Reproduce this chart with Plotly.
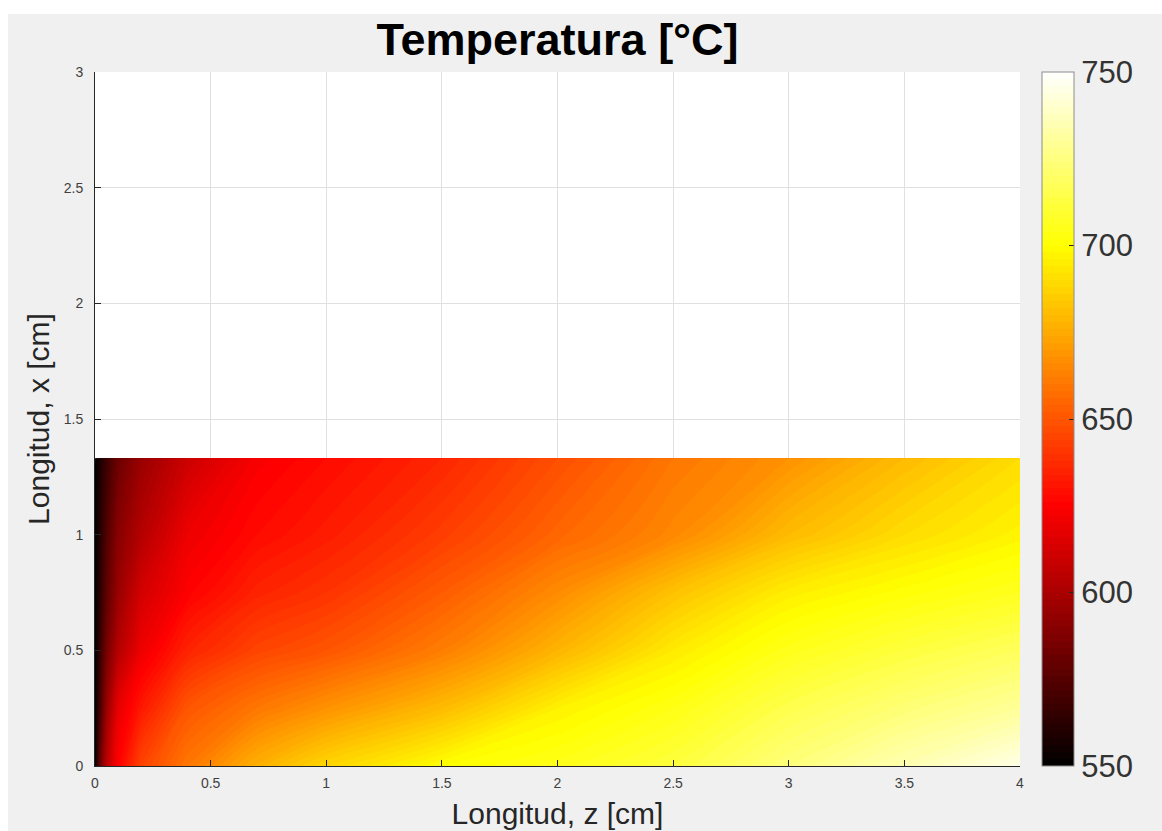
import plotly.graph_objects as go

# Longitudinal position z [cm] (columns) and transversal position x [cm] (rows)
z_cm = [0, 0.02, 0.05, 0.1, 0.2, 0.4, 0.7, 1.0, 1.5, 2.0, 2.5, 3.0, 3.5, 4.0]
x_cm = [0, 0.25, 0.5, 0.75, 1.0, 1.33]

# Temperature [°C], one row per x position
T_x000 = [550, 580, 605, 625, 645, 660, 677, 688, 700, 705, 712, 724, 735, 745]
T_x025 = [550, 570, 595, 618, 632, 650, 660, 668, 680, 696, 704, 715, 723, 730]
T_x050 = [550, 565, 585, 603, 620, 635, 645, 650, 662, 678, 694, 705, 712, 718]
T_x075 = [550, 562, 578, 595, 612, 625, 635, 640, 652, 666, 682, 695, 701, 706]
T_x100 = [550, 560, 574, 590, 603, 620, 628, 633, 643, 655, 665, 680, 690, 697]
T_x133 = [550, 558, 568, 582, 595, 610, 623, 628, 636, 648, 660, 668, 680, 690]

x_ticks = [0, 0.5, 1, 1.5, 2, 2.5, 3, 3.5, 4]
x_ticklabels = ["0", "0.5", "1", "1.5", "2", "2.5", "3", "3.5", "4"]
y_ticks = [0, 0.5, 1, 1.5, 2, 2.5, 3]
y_ticklabels = ["0", "0.5", "1", "1.5", "2", "2.5", "3"]
cbar_ticks = [550, 600, 650, 700, 750]

T = [T_x000, T_x025, T_x050, T_x075, T_x100, T_x133]

# MATLAB "hot" colormap
hot = [[0.0, "rgb(0,0,0)"], [0.375, "rgb(255,0,0)"],
       [0.75, "rgb(255,255,0)"], [1.0, "rgb(255,255,255)"]]

W, H = 1162, 831
L, R, TOP, B = 95, 142, 72, 65
PW, PH = W - L - R, H - TOP - B

fig = go.Figure()
fig.add_trace(go.Contour(
    x=z_cm, y=x_cm, z=T,
    colorscale=hot, zmin=550, zmax=750,
    contours=dict(coloring="fill", start=550, end=750, size=2, showlines=False),
    line=dict(width=0),
    colorbar=dict(
        x=(1042 - L) / PW, xanchor="left", xpad=0, ypad=0,
        y=0.5, yanchor="middle",
        len=PH, lenmode="pixels",
        thickness=32, thicknessmode="pixels",
        outlinecolor="#8c8c8c", outlinewidth=1,
        tickvals=cbar_ticks, ticks="inside", ticklen=5, tickcolor="#262626",
        tickfont=dict(family="Liberation Sans, Arial", size=31, color="#333333"),
    ),
    hoverinfo="skip",
))

F = "Liberation Sans, Arial"
fig.update_layout(
    width=W, height=H,
    margin=dict(l=L, r=R, t=TOP, b=B, autoexpand=False),
    paper_bgcolor="#f0f0f0", plot_bgcolor="white",
    title=dict(text="<b>Temperatura [°C]</b>", x=(L + PW / 2) / W, xanchor="center",
               y=1 - 39.5 / H, yanchor="middle", yref="container",
               font=dict(family=F, size=45, color="black")),
    xaxis=dict(range=[0, 4], tickvals=x_ticks, ticktext=x_ticklabels,
               showgrid=True, gridcolor="#e0e0e0", gridwidth=1,
               showline=True, linecolor="#262626", linewidth=1, mirror=False,
               ticks="inside", ticklen=6, tickcolor="#262626",
               tickfont=dict(family=F, size=14, color="#404040"),
               ticklabelstandoff=4, zeroline=False, automargin=False,
               title=dict(text="Longitud, z [cm]", standoff=13,
                          font=dict(family=F, size=30, color="#262626"))),
    yaxis=dict(range=[0, 3], tickvals=y_ticks, ticktext=y_ticklabels,
               showgrid=True, gridcolor="#e0e0e0", gridwidth=1,
               showline=True, linecolor="#262626", linewidth=1, mirror=False,
               ticks="inside", ticklen=6, tickcolor="#262626",
               tickfont=dict(family=F, size=14, color="#404040"),
               ticklabelstandoff=8, zeroline=False, automargin=False,
               title=dict(text="Longitud, x [cm]", standoff=5,
                          font=dict(family=F, size=30, color="#262626"))),
    shapes=[
        dict(type="rect", xref="paper", yref="paper", layer="below",
             x0=-L / PW, x1=1 + R / PW, y0=1 + (TOP - 14) / PH, y1=1 + TOP / PH,
             fillcolor="white", line=dict(width=0)),
        dict(type="rect", xref="paper", yref="paper", layer="below",
             x0=-L / PW, x1=-(L - 8) / PW, y0=-B / PH, y1=1 + TOP / PH,
             fillcolor="white", line=dict(width=0)),
    ],
)

fig.write_html(
    "out.html",
    config={"displayModeBar": False},
    post_script="document.body.style.margin='0';document.body.style.overflow='hidden';",
)
